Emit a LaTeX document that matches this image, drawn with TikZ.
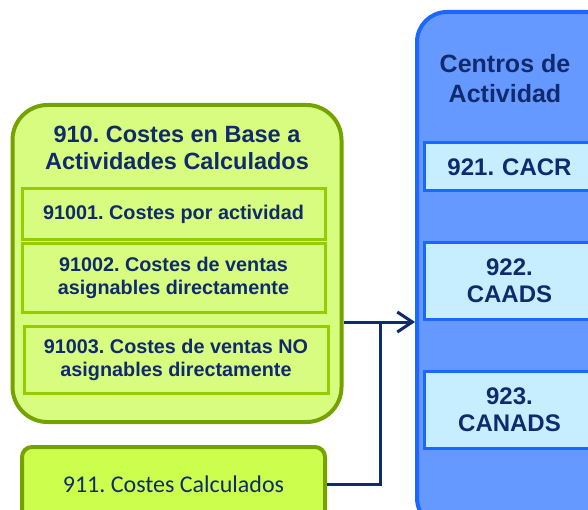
\documentclass[tikz,border=0pt]{standalone}
\usepackage{fontspec}
\setmainfont{Liberation Sans}
\newfontfamily\calibri{Carlito}
\usetikzlibrary{arrows.meta}
\definecolor{azulosc}{RGB}{16,42,110}
\definecolor{verdeosc}{RGB}{118,162,0}
\definecolor{verdeclaro}{RGB}{216,252,128}
\definecolor{verdemed}{RGB}{150,204,0}
\definecolor{verdelima}{RGB}{204,255,77}
\definecolor{azulborde}{RGB}{26,104,255}
\definecolor{azulrelleno}{RGB}{102,153,255}
\definecolor{celeste}{RGB}{199,238,255}
\frenchspacing
\begin{document}
\begin{tikzpicture}[x=1pt, y=-1pt, >={Straight Barb[length=15pt, width=20pt]},
		every node/.style={text=azulosc, font=\bfseries, align=center},
		grupo/.style={draw=verdeosc, fill=verdeclaro, line width=4pt,
			rounded corners=35pt},
		subcaja/.style={draw=verdemed, fill=verdeclaro, line width=3pt,
			font=\bfseries\fontsize{19.8}{23}\selectfont},
		centro/.style={draw=azulborde, fill=celeste, line width=3pt, anchor=west,
			text width=170pt, inner xsep=0pt,
			font=\bfseries\fontsize{24}{27}\selectfont},
		conector/.style={draw=azulosc, line width=3pt}]
	\useasboundingbox (0,0) rectangle (588,510);
	\clip (0,0) rectangle (588,510);
	% bloque de costes
	\node[grupo, minimum width=329pt, minimum height=317pt] (grupo910) at (177,263.5) {};
	\node[font=\bfseries\fontsize{23.5}{27}\selectfont] (titulo910) at (177,148)
		{910. Costes en Base a\\Actividades Calculados};
	\node[subcaja, minimum width=303pt, minimum height=51pt] (c91001) at (173.5,214.5)
		{91001. Costes por actividad};
	\node[subcaja, minimum width=303pt, minimum height=68pt] (c91002) at (173.5,278)
		{91002. Costes de ventas\\asignables directamente};
	\node[subcaja, minimum width=304pt, minimum height=67pt] (c91003) at (176,359.5)
		{91003. Costes de ventas NO\\asignables directamente};
	\node[draw=verdeosc, fill=verdelima, line width=4pt, rounded corners=10pt,
		minimum width=303pt, minimum height=74pt,
		font=\calibri\fontsize{24}{28}\selectfont] (calculados) at (173.5,484)
		{911. Costes Calculados};
	% centros de actividad
	\node[draw=azulborde, fill=azulrelleno, line width=4pt, rounded corners=30pt,
		minimum width=200pt, minimum height=516pt] (centros) at (517,270) {};
	\node[font=\bfseries\fontsize{25}{30}\selectfont] (titulocentros) at (505,79)
		{Centros de\\Actividad};
	\node[centro, minimum height=48pt] (c921) at (423,167) {921. CACR};
	\node[centro, minimum height=76pt] (c922) at (423,281) {922.\\CAADS};
	\node[centro, minimum height=77pt] (c923) at (423,409.5) {923.\\CANADS};
	\coordinate (union) at (380,322);
	\draw[conector, ->] (grupo910.east |- union) -- (centros.west |- union);
	\draw[conector] (calculados.east) -| (union);
\end{tikzpicture}
\end{document}
